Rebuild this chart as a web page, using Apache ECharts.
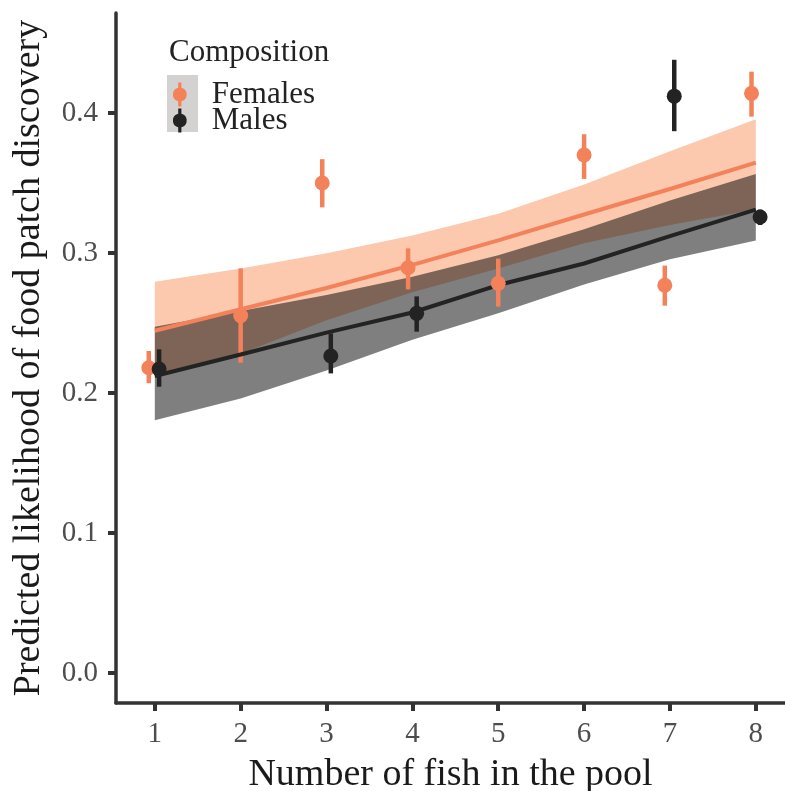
<!DOCTYPE html>
<html>
<head>
<meta charset="utf-8">
<script src="https://cdn.jsdelivr.net/npm/echarts@6/dist/echarts.min.js"></script>
<style>
html,body{margin:0;padding:0;background:#fff;}
#chart{width:785px;height:791px;}
</style>
</head>
<body>
<div id="chart"></div>
<script>
// ---- data ----
var xTicks = [1, 2, 3, 4, 5, 6, 7, 8];
var yTicks = [0, 0.1, 0.2, 0.3, 0.4];

var fitX = [1, 2, 3, 4, 5, 6, 7, 8];
var femaleFit   = [0.2445, 0.2598, 0.275, 0.2915, 0.309, 0.3275, 0.3457, 0.3645];
var femaleLower = [0.211, 0.228, 0.252, 0.272, 0.289, 0.307, 0.320, 0.331];
var femaleUpper = [0.2795, 0.289, 0.2998, 0.3125, 0.328, 0.349, 0.3726, 0.3955];
var maleFit   = [0.2121, 0.2275, 0.2431, 0.2575, 0.2771, 0.2925, 0.3121, 0.331];
var maleLower = [0.1805, 0.196, 0.216, 0.238, 0.257, 0.2775, 0.2955, 0.309];
var maleUpper = [0.2474, 0.2586, 0.270, 0.283, 0.2983, 0.317, 0.3374, 0.3564];

var femaleX  = [0.93, 2, 2.95, 3.95, 5, 6, 6.94, 7.95];
var femaleY  = [0.218, 0.2553, 0.350, 0.2895, 0.2783, 0.370, 0.277, 0.414];
var femaleLo = [0.207, 0.2216, 0.3326, 0.274, 0.2617, 0.3529, 0.2624, 0.3974];
var femaleHi = [0.230, 0.289, 0.367, 0.3033, 0.296, 0.3848, 0.291, 0.4295];

var maleX  = [1.05, 3.05, 4.05, 7.05, 8.05];
var maleY  = [0.2171, 0.2264, 0.2569, 0.412, 0.3257];
var maleLo = [0.2045, 0.214, 0.2438, 0.387, 0.320];
var maleHi = [0.2312, 0.2426, 0.269, 0.438, 0.331];

// ---- styles ----
var FONT = 'Liberation Serif';
var ORANGE = '#F3825B';
var BLACK = '#232323';
var ORANGE_RIBBON = '#FCC9AF';
var BLACK_RIBBON = 'rgba(0,0,0,0.5)';

function ribbonSeries(name, xs, lo, hi, fill) {
  return {
    type: 'custom', name: name, silent: true, z: 2,
    data: xs.map(function (x, i) { return [x, lo[i], hi[i]]; }),
    encode: { x: 0, y: [1, 2] },
    renderItem: function (params, api) {
      if (params.dataIndex !== 0) return null;
      var pts = [];
      for (var i = 0; i < xs.length; i++) pts.push(api.coord([xs[i], hi[i]]));
      for (var j = xs.length - 1; j >= 0; j--) pts.push(api.coord([xs[j], lo[j]]));
      return { type: 'polygon', shape: { points: pts }, style: { fill: fill, stroke: null } };
    }
  };
}
function fitSeries(name, xs, ys, color) {
  return {
    type: 'line', name: name, z: 2, silent: true,
    data: xs.map(function (x, i) { return [x, ys[i]]; }),
    symbol: 'none', lineStyle: { color: color, width: 4 }, itemStyle: { color: color }
  };
}
function errSeries(name, xs, lo, hi, color) {
  return {
    type: 'custom', name: name, z: 2, silent: true,
    data: xs.map(function (x, i) { return [x, lo[i], hi[i]]; }),
    encode: { x: 0, y: [1, 2] },
    renderItem: function (params, api) {
      var a = api.coord([api.value(0), api.value(1)]);
      var b = api.coord([api.value(0), api.value(2)]);
      return { type: 'line', shape: { x1: a[0], y1: a[1], x2: b[0], y2: b[1] },
               style: { stroke: color, lineWidth: 4.5 } };
    }
  };
}
function pointSeries(name, xs, ys, color) {
  return {
    type: 'scatter', name: name, z: 2,
    data: xs.map(function (x, i) { return [x, ys[i]]; }),
    symbol: 'circle', symbolSize: 15, itemStyle: { color: color, opacity: 1 }
  };
}

var iconPath = 'path://M-1.6,-12 L1.6,-12 L1.6,-6.8 A7,7 0 0 1 6.8,-1.6 L6.8,1.6 A7,7 0 0 1 1.6,6.8 L1.6,12 L-1.6,12 L-1.6,6.8 A7,7 0 0 1 -6.8,1.6 L-6.8,-1.6 A7,7 0 0 1 -1.6,-6.8 Z';

var chart = echarts.init(document.getElementById('chart'), null, { renderer: 'canvas' });
chart.setOption({
  animation: false,
  backgroundColor: '#ffffff',
  grid: { left: 116, right: 0, top: 13, bottom: 88, containLabel: false, outerBoundsMode: 'none' },
  xAxis: {
    type: 'value', min: 0.548, max: 8.34,
    splitLine: { show: false },
    axisLine: { onZero: false, lineStyle: { color: '#333333', width: 3.5 } },
    axisTick: { customValues: xTicks, length: 8, lineStyle: { color: '#333333', width: 4 } },
    axisLabel: { customValues: xTicks, fontFamily: FONT, fontSize: 29, color: '#4d4d4d', margin: 17 },
    name: 'Number of fish in the pool', nameLocation: 'middle', nameGap: 53,
    nameTextStyle: { fontFamily: FONT, fontSize: 38, color: '#1a1a1a' }
  },
  yAxis: {
    type: 'value', min: -0.0214, max: 0.4714,
    splitLine: { show: false },
    axisLine: { onZero: false, lineStyle: { color: '#333333', width: 3.5 } },
    axisTick: { customValues: yTicks, length: 8, lineStyle: { color: '#333333', width: 4 } },
    axisLabel: { customValues: yTicks, fontFamily: FONT, fontSize: 29, color: '#4d4d4d', margin: 18,
                 formatter: function (v) { return v.toFixed(1); } },
    name: 'Predicted likelihood of food patch discovery', nameLocation: 'middle', nameGap: 68,
    nameRotate: 90,
    nameTextStyle: { fontFamily: FONT, fontSize: 38, color: '#1a1a1a' }
  },
  legend: {
    orient: 'vertical', left: 168, top: 74, z: 10,
    itemWidth: 28, itemHeight: 24, itemGap: -5,
    data: [
      { name: 'Females', icon: iconPath, itemStyle: { color: ORANGE } },
      { name: 'Males', icon: iconPath, itemStyle: { color: BLACK } }
    ],
    textStyle: { fontFamily: FONT, fontSize: 31, color: '#222222', padding: [0, 0, 0, 13] },
    selectedMode: false
  },
  graphic: [
    { type: 'rect', left: 167, top: 75, z: 1, shape: { width: 31, height: 57 }, style: { fill: '#D4D2D0' } },
    { type: 'text', left: 169, top: 37, z: 10,
      style: { text: 'Composition', fontFamily: FONT, fontSize: 31, fill: '#222222' } }
  ],
  series: [
    ribbonSeries('Females band', fitX, femaleLower, femaleUpper, ORANGE_RIBBON),
    fitSeries('Females fit', fitX, femaleFit, ORANGE),
    ribbonSeries('Males band', fitX, maleLower, maleUpper, BLACK_RIBBON),
    fitSeries('Males fit', fitX, maleFit, BLACK),
    errSeries('Females error', femaleX, femaleLo, femaleHi, ORANGE),
    pointSeries('Females', femaleX, femaleY, ORANGE),
    errSeries('Males error', maleX, maleLo, maleHi, BLACK),
    pointSeries('Males', maleX, maleY, BLACK)
  ]
});
</script>
</body>
</html>
